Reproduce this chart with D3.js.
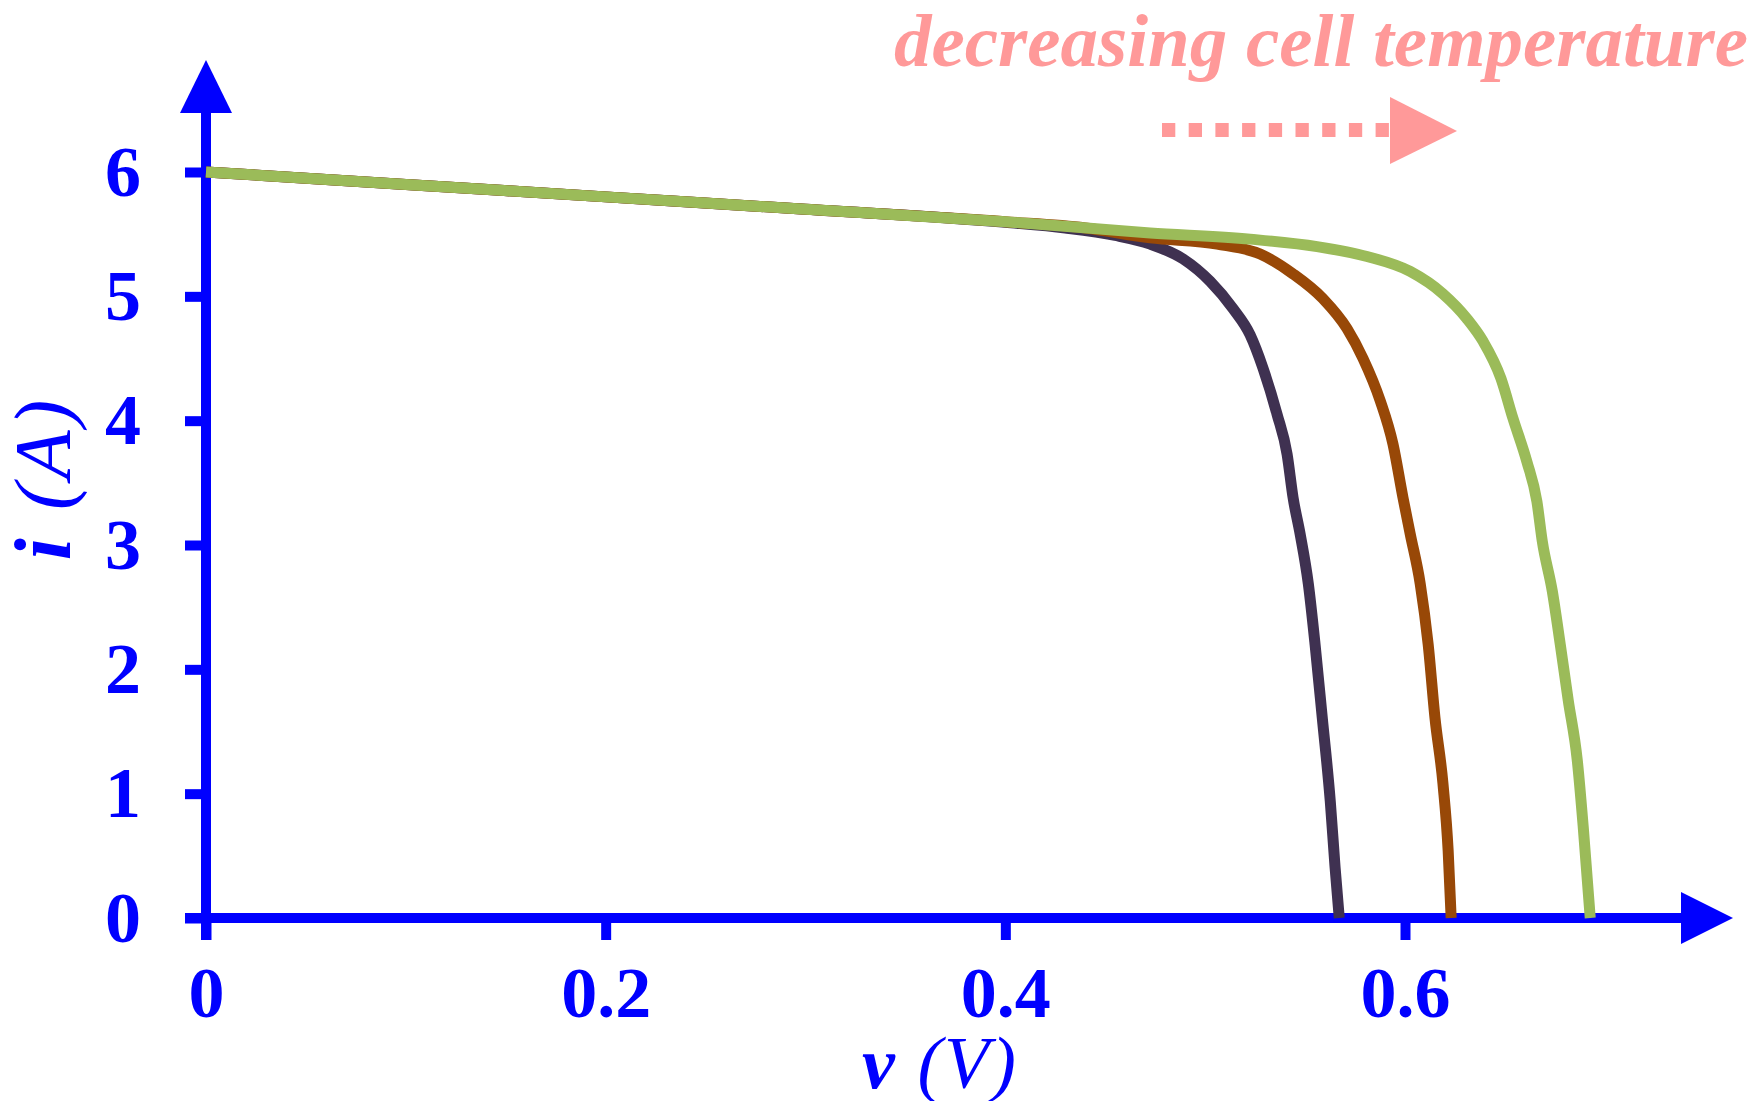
<!DOCTYPE html>
<html>
<head>
  <title>i-v curves vs cell temperature</title>
  <script src="https://d3js.org/d3.v7.min.js"></script>
  <style>
    body { margin: 0; background: #fff; }
    svg text { font-family: "Liberation Serif", "Times New Roman", serif; fill: #0000ff; }
    .tick text { font-size: 72px; font-weight: bold; }
  </style>
</head>
<body>
  <script>
    // voltage (V) and current (A), one pair of arrays per curve
    var hotV = [0, 0.1, 0.2, 0.3, 0.4, 0.43, 0.455, 0.4725, 0.489, 0.5025, 0.514, 0.5225, 0.529, 0.536, 0.541, 0.544, 0.5475, 0.5516, 0.555, 0.5586, 0.5626, 0.565, 0.5671];
    var hotI = [6.0, 5.9, 5.8, 5.7, 5.595, 5.55, 5.49, 5.42, 5.30, 5.12, 4.90, 4.69, 4.42, 4.05, 3.73, 3.38, 3.09, 2.69, 2.20, 1.61, 0.94, 0.41, 0];

    var midV = [0, 0.1, 0.2, 0.3, 0.4, 0.44, 0.4725, 0.506, 0.5275, 0.544, 0.559, 0.571, 0.579, 0.5876, 0.594, 0.599, 0.6026, 0.6076, 0.6116, 0.615, 0.619, 0.6216, 0.6231];
    var midI = [6.0, 5.9, 5.8, 5.7, 5.6, 5.55, 5.47, 5.42, 5.34, 5.18, 4.98, 4.74, 4.50, 4.16, 3.81, 3.38, 3.09, 2.69, 2.20, 1.61, 1.08, 0.54, 0];

    var coldV = [0, 0.1, 0.2, 0.3, 0.4, 0.4725, 0.5225, 0.556, 0.581, 0.6026, 0.619, 0.631, 0.639, 0.648, 0.654, 0.661, 0.666, 0.6687, 0.6737, 0.6777, 0.6817, 0.6862, 0.6892, 0.6927];
    var coldI = [6.0, 5.9, 5.8, 5.7, 5.6, 5.51, 5.46, 5.40, 5.32, 5.20, 5.02, 4.82, 4.64, 4.34, 4.02, 3.67, 3.35, 3.03, 2.63, 2.20, 1.75, 1.27, 0.73, 0];

    var xTicks = [0, 0.2, 0.4, 0.6];
    var yTicks = [0, 1, 2, 3, 4, 5, 6];
    var colors = ["#3f3151", "#984807", "#9bbb59"];

    var W = 1763, H = 1101;
    var blue = "#0000ff";

    var svg = d3.select("body").append("svg")
      .attr("width", W)
      .attr("height", H);

    var x = d3.scaleLinear().domain([0, 0.6]).range([206, 1405]);
    var y = d3.scaleLinear().domain([0, 6]).range([918, 172]);

    // y axis
    svg.append("g")
      .attr("transform", "translate(" + x(0) + ",0)")
      .call(d3.axisLeft(y).tickValues(yTicks).tickFormat(d3.format("d")).tickSize(21).tickPadding(44))
      .call(function(g) {
        g.select(".domain").remove();
        g.selectAll(".tick line").attr("stroke", blue).attr("stroke-width", 10);
        g.selectAll(".tick text").attr("fill", blue);
      });

    // x axis
    svg.append("g")
      .attr("transform", "translate(0," + y(0) + ")")
      .call(d3.axisBottom(x).tickValues(xTicks).tickFormat(function(d) { return d === 0 ? "0" : d3.format(".1f")(d); }).tickSize(22).tickPadding(26))
      .call(function(g) {
        g.select(".domain").remove();
        g.selectAll(".tick line").attr("stroke", blue).attr("stroke-width", 10);
        g.selectAll(".tick text").attr("fill", blue);
      });

    // axis lines with arrow heads
    svg.append("line")
      .attr("x1", x(0)).attr("x2", x(0))
      .attr("y1", y(0) + 22).attr("y2", 112)
      .attr("stroke", blue).attr("stroke-width", 10);
    svg.append("path")
      .attr("d", "M" + (x(0) - 26) + ",113 L" + x(0) + ",60 L" + (x(0) + 26) + ",113 Z")
      .attr("fill", blue);

    svg.append("line")
      .attr("x1", 185).attr("x2", 1682)
      .attr("y1", y(0)).attr("y2", y(0))
      .attr("stroke", blue).attr("stroke-width", 10);
    svg.append("path")
      .attr("d", "M1681," + (y(0) - 26) + " L1733," + y(0) + " L1681," + (y(0) + 26) + " Z")
      .attr("fill", blue);

    // curves
    var line = d3.line()
      .x(function(d) { return x(d[0]); })
      .y(function(d) { return y(d[1]); })
      .curve(d3.curveMonotoneX);

    var curves = [d3.zip(hotV, hotI), d3.zip(midV, midI), d3.zip(coldV, coldI)];
    svg.selectAll(".curve")
      .data(curves)
      .enter()
      .append("path")
      .attr("class", "curve")
      .attr("d", line)
      .attr("fill", "none")
      .attr("stroke", function(d, i) { return colors[i]; })
      .attr("stroke-width", 11)
      .attr("stroke-linejoin", "round");

    // axis titles
    var xt = svg.append("text")
      .attr("x", 940).attr("y", 1088)
      .attr("text-anchor", "middle")
      .style("font-size", "74px")
      .style("letter-spacing", "2px")
      .style("font-style", "italic");
    xt.append("tspan").style("font-weight", "bold").text("v");
    xt.append("tspan").text(" (V)");

    var yt = svg.append("text")
      .attr("transform", "translate(70,478) rotate(-90)")
      .attr("text-anchor", "middle")
      .style("font-size", "80px")
      .style("letter-spacing", "4px")
      .style("font-style", "italic");
    yt.append("tspan").style("font-weight", "bold").text("i");
    yt.append("tspan").text(" (A)");

    // annotation
    var pink = "#ff9999";
    svg.append("text")
      .attr("x", 1748).attr("y", 66)
      .attr("text-anchor", "end")
      .style("font-size", "75px")
      .style("font-weight", "bold")
      .style("font-style", "italic")
      .style("fill", pink)
      .text("decreasing cell temperature");

    svg.append("line")
      .attr("x1", 1162).attr("x2", 1390)
      .attr("y1", 130).attr("y2", 130)
      .attr("stroke", pink).attr("stroke-width", 14)
      .attr("stroke-dasharray", "13.3,13.4");
    svg.append("path")
      .attr("d", "M1390,97 L1457,131 L1390,164 Z")
      .attr("fill", pink);
  </script>
</body>
</html>
